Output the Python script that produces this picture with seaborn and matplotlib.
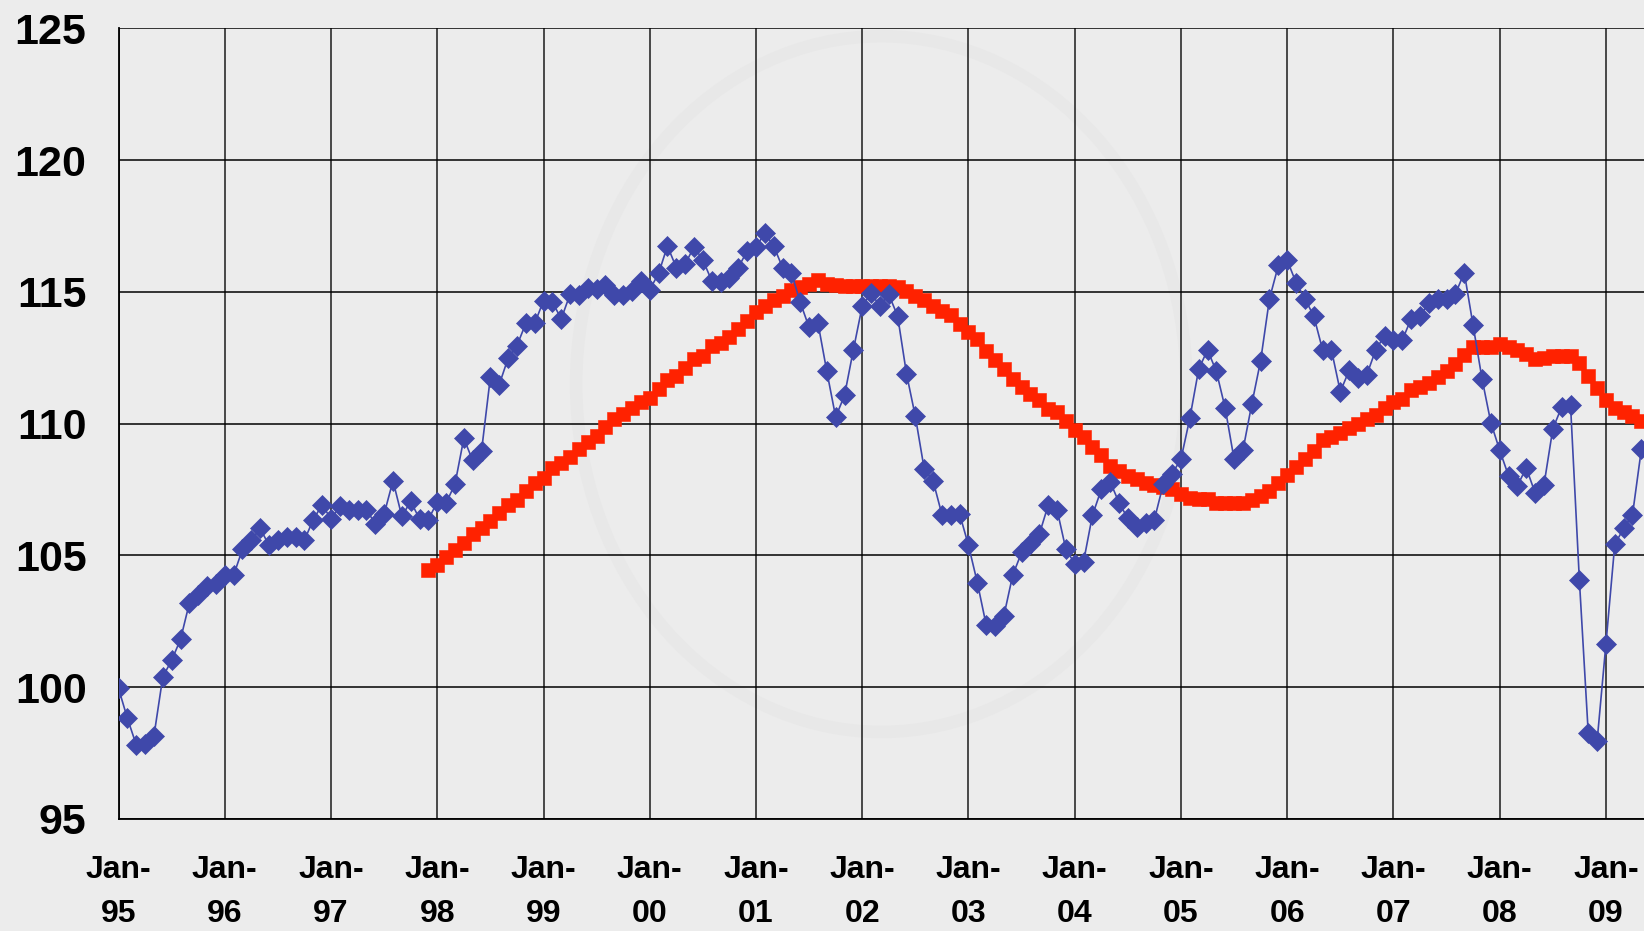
"""Monthly index (Jan-95 = 100) with its trailing trend line, 1995-2009."""

import matplotlib
matplotlib.use("Agg")
import matplotlib.pyplot as plt
import numpy as np
import pandas as pd
import seaborn as sns
from matplotlib.patches import Ellipse

# Monthly index, Jan-95 onwards (173 months, to May-09).
INDEX = [
    99.95, 98.82, 97.81, 97.84, 98.15, 100.39, 101.02, 101.81, 103.19, 103.5, 103.84, 103.93,
    104.26, 104.25, 105.23, 105.58, 106.02, 105.38, 105.58, 105.7, 105.7, 105.58, 106.36, 106.92,
    106.38, 106.86, 106.73, 106.73, 106.73, 106.2, 106.57, 107.83, 106.48, 107.05, 106.38, 106.36,
    107.03, 106.99, 107.7, 109.44, 108.6, 108.96, 111.77, 111.48, 112.48, 112.96, 113.8, 113.8,
    114.66, 114.62, 113.97, 114.91, 114.89, 115.13, 115.1, 115.25, 114.89, 114.89, 115.04, 115.42,
    115.08, 115.7, 116.74, 115.92, 116.05, 116.71, 116.21, 115.42, 115.39, 115.54, 115.92, 116.55,
    116.71, 117.22, 116.74, 115.92, 115.73, 114.6, 113.65, 113.82, 111.98, 110.25, 111.07, 112.8,
    114.46, 114.95, 114.46, 114.9, 114.08, 111.89, 110.27, 108.28, 107.83, 106.55, 106.55, 106.57,
    105.38, 103.97, 102.36, 102.33, 102.71, 104.25, 105.11, 105.42, 105.8, 106.9, 106.74, 105.23,
    104.69, 104.76, 106.52, 107.5, 107.8, 107.0, 106.4, 106.07, 106.23, 106.36, 107.7, 108.1,
    108.65, 110.2, 112.06, 112.8, 111.98, 110.58, 108.65, 108.99, 110.74, 112.39, 114.74, 116.0,
    116.2, 115.35, 114.74, 114.08, 112.8, 112.79, 111.21, 112.02, 111.73, 111.86, 112.8, 113.34,
    113.17, 113.17, 113.98, 114.08, 114.58, 114.72, 114.72, 114.92, 115.73, 113.73, 111.71, 110.04,
    108.99, 108.02, 107.64, 108.32, 107.37, 107.67, 109.8, 110.63, 110.71, 104.07, 98.27, 97.94,
    101.64, 105.42, 106.02, 106.54, 109.02,
]

# Trend line, starting Dec-97 (month 35) through May-09.
TREND_START = 35
TREND = [
    104.43, 104.64, 104.94, 105.19, 105.48, 105.82, 106.04, 106.3, 106.61, 106.9, 107.11, 107.43,
    107.74, 107.93, 108.31, 108.5, 108.75, 109.03, 109.31, 109.54, 109.88, 110.19, 110.35, 110.6,
    110.82, 110.97, 111.3, 111.64, 111.8, 112.1, 112.46, 112.58, 112.93, 113.06, 113.3, 113.59,
    113.88, 114.22, 114.45, 114.69, 114.85, 115.08, 115.2, 115.29, 115.45, 115.3, 115.25, 115.23,
    115.23, 115.23, 115.23, 115.23, 115.23, 115.2, 115.05, 114.85, 114.7, 114.45, 114.28, 114.12,
    113.78, 113.49, 113.21, 112.77, 112.43, 112.08, 111.7, 111.39, 111.14, 110.89, 110.57, 110.45,
    110.1, 109.76, 109.49, 109.12, 108.79, 108.41, 108.22, 108.02, 107.91, 107.75, 107.67, 107.61,
    107.53, 107.33, 107.17, 107.13, 107.13, 106.97, 106.97, 106.97, 106.97, 107.1, 107.26, 107.44,
    107.75, 108.05, 108.34, 108.65, 108.95, 109.37, 109.5, 109.66, 109.82, 110.0, 110.16, 110.34,
    110.61, 110.81, 110.94, 111.28, 111.39, 111.55, 111.75, 111.98, 112.25, 112.6, 112.9, 112.92,
    112.92, 113.03, 112.92, 112.8, 112.63, 112.47, 112.49, 112.56, 112.56, 112.56, 112.29, 111.79,
    111.35, 110.9, 110.58, 110.44, 110.27, 110.1,
]

YEARS = ["95", "96", "97", "98", "99", "00", "01", "02", "03", "04", "05", "06", "07", "08", "09"]
Y_TICKS = [95, 100, 105, 110, 115, 120, 125]

BG = "#ececec"
BLUE = "#3f48aa"
RED = "#ff2200"
FONT = ["Liberation Sans", "DejaVu Sans"]


def build():
    idx = pd.DataFrame({"month": np.arange(len(INDEX)), "value": INDEX})
    trend = pd.DataFrame({"month": np.arange(len(TREND)) + TREND_START, "value": TREND})
    return idx, trend


def main():
    sns.set_theme(style="white")
    plt.rcParams["font.family"] = FONT
    idx, trend = build()

    fig = plt.figure(figsize=(16.44, 9.31), dpi=100, facecolor=BG)
    ax = fig.add_axes([0.0721, 0.1204, 1.0 - 0.0721, 0.9696 - 0.1204])
    ax.set_facecolor(BG)

    # very faint watermark ring behind the plot
    ax.add_patch(Ellipse((0.5, 0.55), 0.40, 0.88, transform=ax.transAxes, fill=False,
                         edgecolor="#e8e8e8", linewidth=9, zorder=0.5))

    sns.lineplot(data=trend, x="month", y="value", ax=ax, color=RED, linewidth=3,
                 marker="s", markersize=9.5, markeredgecolor=RED, markeredgewidth=0.4,
                 zorder=3)
    sns.lineplot(data=idx, x="month", y="value", ax=ax, color=BLUE, linewidth=1.2,
                 marker="D", markersize=10.5, markeredgecolor=BLUE, markeredgewidth=0.5,
                 zorder=4)

    ax.set_xlim(0, 172.3)
    ax.set_ylim(95, 125)

    xt = [12 * k for k in range(len(YEARS))]
    ax.set_xticks(xt)
    ax.set_xticklabels([f"Jan-\n{y}" for y in YEARS], fontsize=23, fontweight="bold",
                       linespacing=1.6, color="black")
    ax.set_yticks(Y_TICKS)
    ax.set_yticklabels([str(v) for v in Y_TICKS], fontsize=31, fontweight="bold",
                       color="black")
    ax.tick_params(axis="y", direction="out", length=10, width=1.2, color="black", pad=13)
    ax.tick_params(axis="x", direction="out", length=7, width=1.2, color="black", pad=19)

    for x in xt:
        ax.axvline(x, color="#3a3a3a", linewidth=1.3, zorder=1)
    for y in Y_TICKS:
        ax.axhline(y, color="black", linewidth=1.1, zorder=1)

    for side in ["top", "right"]:
        ax.spines[side].set_visible(False)
    for side in ["left", "bottom"]:
        ax.spines[side].set_color("black")
        ax.spines[side].set_linewidth(1.3)

    ax.set_xlabel("")
    ax.set_ylabel("")
    legend = ax.get_legend()
    if legend is not None:
        legend.remove()

    fig.savefig("out.png", dpi=100, facecolor=BG)


if __name__ == "__main__":
    main()
